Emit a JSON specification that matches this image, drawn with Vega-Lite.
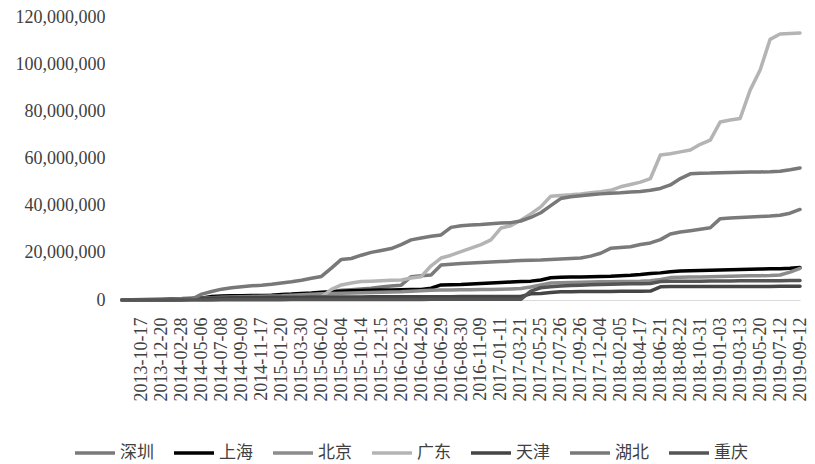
{
  "$schema": "https://vega.github.io/schema/vega-lite/v6.json",
  "width": 678,
  "height": 283,
  "autosize": {"type": "none"},
  "padding": {"left": 122, "top": 17, "right": 15, "bottom": 164},
  "background": "white",
  "config": {"view": {"stroke": null}, "font": "Liberation Serif"},
  "data": {"values": [
    {"date": "2013-08-14", "深圳": 0, "上海": 0, "北京": 0, "广东": 0, "天津": 0, "湖北": 0, "重庆": 0},
    {"date": "2013-09-16", "深圳": 100000, "上海": 0, "北京": 0, "广东": 0, "天津": 0, "湖北": 0, "重庆": 0},
    {"date": "2013-10-17", "深圳": 200000, "上海": 0, "北京": 0, "广东": 0, "天津": 0, "湖北": 0, "重庆": 0},
    {"date": "2013-11-18", "深圳": 300000, "上海": 0, "北京": 50000, "广东": 0, "天津": 0, "湖北": 0, "重庆": 0},
    {"date": "2013-12-20", "深圳": 400000, "上海": 100000, "北京": 100000, "广东": 100000, "天津": 50000, "湖北": 0, "重庆": 0},
    {"date": "2014-01-23", "深圳": 500000, "上海": 200000, "北京": 200000, "广东": 100000, "天津": 100000, "湖北": 0, "重庆": 0},
    {"date": "2014-02-28", "深圳": 600000, "上海": 300000, "北京": 300000, "广东": 200000, "天津": 200000, "湖北": 0, "重庆": 0},
    {"date": "2014-04-02", "深圳": 800000, "上海": 500000, "北京": 500000, "广东": 300000, "天津": 400000, "湖北": 300000, "重庆": 0},
    {"date": "2014-05-06", "深圳": 1000000, "上海": 800000, "北京": 700000, "广东": 400000, "天津": 600000, "湖北": 2500000, "重庆": 0},
    {"date": "2014-06-06", "深圳": 1200000, "上海": 1500000, "北京": 1000000, "广东": 500000, "天津": 800000, "湖北": 3600000, "重庆": 50000},
    {"date": "2014-07-08", "深圳": 1400000, "上海": 1700000, "北京": 1200000, "广东": 600000, "天津": 900000, "湖北": 4600000, "重庆": 100000},
    {"date": "2014-08-08", "深圳": 1500000, "上海": 1800000, "北京": 1300000, "广东": 700000, "天津": 1000000, "湖北": 5200000, "重庆": 100000},
    {"date": "2014-09-09", "深圳": 1600000, "上海": 1800000, "北京": 1400000, "广东": 800000, "天津": 1050000, "湖北": 5600000, "重庆": 100000},
    {"date": "2014-10-15", "深圳": 1700000, "上海": 1900000, "北京": 1500000, "广东": 900000, "天津": 1100000, "湖北": 6000000, "重庆": 100000},
    {"date": "2014-11-17", "深圳": 1800000, "上海": 1900000, "北京": 1600000, "广东": 1000000, "天津": 1100000, "湖北": 6300000, "重庆": 150000},
    {"date": "2014-12-18", "深圳": 1900000, "上海": 2000000, "北京": 1700000, "广东": 1000000, "天津": 1150000, "湖北": 6700000, "重庆": 150000},
    {"date": "2015-01-20", "深圳": 2000000, "上海": 2300000, "北京": 1800000, "广东": 1100000, "天津": 1200000, "湖北": 7200000, "重庆": 150000},
    {"date": "2015-02-27", "深圳": 2200000, "上海": 2500000, "北京": 2000000, "广东": 1100000, "天津": 1200000, "湖北": 7700000, "重庆": 200000},
    {"date": "2015-03-30", "深圳": 2400000, "上海": 2800000, "北京": 2200000, "广东": 1200000, "天津": 1200000, "湖北": 8400000, "重庆": 200000},
    {"date": "2015-04-30", "深圳": 2600000, "上海": 3000000, "北京": 2400000, "广东": 1200000, "天津": 1250000, "湖北": 9200000, "重庆": 200000},
    {"date": "2015-06-02", "深圳": 3000000, "上海": 3300000, "北京": 2600000, "广东": 1300000, "天津": 1250000, "湖北": 10000000, "重庆": 200000},
    {"date": "2015-07-03", "深圳": 3500000, "上海": 3500000, "北京": 2800000, "广东": 4500000, "天津": 1300000, "湖北": 13500000, "重庆": 200000},
    {"date": "2015-08-04", "深圳": 4100000, "上海": 3700000, "北京": 2900000, "广东": 6400000, "天津": 1300000, "湖北": 17200000, "重庆": 200000},
    {"date": "2015-09-08", "深圳": 4400000, "上海": 3900000, "北京": 3000000, "广东": 7200000, "天津": 1300000, "湖北": 17600000, "重庆": 200000},
    {"date": "2015-10-14", "深圳": 4700000, "上海": 4000000, "北京": 3100000, "广东": 7800000, "天津": 1300000, "湖北": 19000000, "重庆": 200000},
    {"date": "2015-11-13", "深圳": 5000000, "上海": 4100000, "北京": 3200000, "广东": 8000000, "天津": 1350000, "湖北": 20200000, "重庆": 250000},
    {"date": "2015-12-15", "深圳": 5500000, "上海": 4200000, "北京": 3300000, "广东": 8200000, "天津": 1350000, "湖北": 21000000, "重庆": 250000},
    {"date": "2016-01-15", "深圳": 5900000, "上海": 4200000, "北京": 3400000, "广东": 8400000, "天津": 1350000, "湖北": 21800000, "重庆": 250000},
    {"date": "2016-02-23", "深圳": 6300000, "上海": 4300000, "北京": 3500000, "广东": 8500000, "天津": 1350000, "湖北": 23500000, "重庆": 250000},
    {"date": "2016-03-25", "深圳": 9900000, "上海": 4400000, "北京": 3700000, "广东": 9300000, "天津": 1400000, "湖北": 25500000, "重庆": 250000},
    {"date": "2016-04-26", "深圳": 10300000, "上海": 4500000, "北京": 3900000, "广东": 9900000, "天津": 1400000, "湖北": 26300000, "重庆": 250000},
    {"date": "2016-05-30", "深圳": 10600000, "上海": 5000000, "北京": 4100000, "广东": 14500000, "天津": 1400000, "湖北": 27000000, "重庆": 300000},
    {"date": "2016-06-29", "深圳": 14800000, "上海": 6400000, "北京": 4200000, "广东": 17800000, "天津": 1400000, "湖北": 27600000, "重庆": 300000},
    {"date": "2016-07-29", "深圳": 15200000, "上海": 6500000, "北京": 4250000, "广东": 19000000, "天津": 1400000, "湖北": 30800000, "重庆": 300000},
    {"date": "2016-08-30", "深圳": 15500000, "上海": 6600000, "北京": 4300000, "广东": 20500000, "天津": 1450000, "湖北": 31500000, "重庆": 300000},
    {"date": "2016-10-10", "深圳": 15700000, "上海": 6800000, "北京": 4350000, "广东": 22000000, "天津": 1450000, "湖北": 31800000, "重庆": 300000},
    {"date": "2016-11-09", "深圳": 15900000, "上海": 7000000, "北京": 4400000, "广东": 23500000, "天津": 1450000, "湖北": 32000000, "重庆": 300000},
    {"date": "2016-12-09", "深圳": 16100000, "上海": 7200000, "北京": 4500000, "广东": 25500000, "天津": 1500000, "湖北": 32300000, "重庆": 300000},
    {"date": "2017-01-11", "深圳": 16300000, "上海": 7400000, "北京": 4600000, "广东": 30500000, "天津": 1500000, "湖北": 32600000, "重庆": 300000},
    {"date": "2017-02-20", "深圳": 16500000, "上海": 7600000, "北京": 4700000, "广东": 31500000, "天津": 1500000, "湖北": 32800000, "重庆": 300000},
    {"date": "2017-03-21", "深圳": 16700000, "上海": 7800000, "北京": 4900000, "广东": 33800000, "天津": 1500000, "湖北": 33500000, "重庆": 300000},
    {"date": "2017-04-24", "深圳": 16900000, "上海": 8000000, "北京": 5500000, "广东": 36500000, "天津": 2600000, "湖北": 35000000, "重庆": 3800000},
    {"date": "2017-05-25", "深圳": 17000000, "上海": 8500000, "北京": 6400000, "广东": 39500000, "天津": 2800000, "湖北": 37000000, "重庆": 5200000},
    {"date": "2017-06-26", "深圳": 17200000, "上海": 9400000, "北京": 7200000, "广东": 44000000, "天津": 3200000, "湖北": 40000000, "重庆": 5600000},
    {"date": "2017-07-26", "深圳": 17400000, "上海": 9600000, "北京": 7300000, "广东": 44300000, "天津": 3500000, "湖北": 43000000, "重庆": 5900000},
    {"date": "2017-08-25", "深圳": 17600000, "上海": 9700000, "北京": 7400000, "广东": 44600000, "天津": 3550000, "湖北": 43800000, "重庆": 6100000},
    {"date": "2017-09-26", "深圳": 17800000, "上海": 9800000, "北京": 7500000, "广东": 45000000, "天津": 3600000, "湖北": 44200000, "重庆": 6300000},
    {"date": "2017-11-03", "深圳": 18600000, "上海": 9900000, "北京": 7600000, "广东": 45500000, "天津": 3600000, "湖北": 44600000, "重庆": 6500000},
    {"date": "2017-12-04", "深圳": 19800000, "上海": 10000000, "北京": 7700000, "广东": 45900000, "天津": 3650000, "湖北": 45000000, "重庆": 6600000},
    {"date": "2018-01-04", "深圳": 21900000, "上海": 10100000, "北京": 7700000, "广东": 46500000, "天津": 3650000, "湖北": 45300000, "重庆": 6700000},
    {"date": "2018-02-05", "深圳": 22300000, "上海": 10300000, "北京": 7800000, "广东": 48000000, "天津": 3700000, "湖北": 45500000, "重庆": 6800000},
    {"date": "2018-03-14", "深圳": 22600000, "上海": 10500000, "北京": 7800000, "广东": 49000000, "天津": 3700000, "湖北": 45800000, "重庆": 6900000},
    {"date": "2018-04-17", "深圳": 23500000, "上海": 10800000, "北京": 7900000, "广东": 50000000, "天津": 3750000, "湖北": 46000000, "重庆": 6900000},
    {"date": "2018-05-18", "深圳": 24200000, "上海": 11200000, "北京": 8200000, "广东": 51500000, "天津": 3800000, "湖北": 46500000, "重庆": 7000000},
    {"date": "2018-06-21", "深圳": 25600000, "上海": 11500000, "北京": 8700000, "广东": 61500000, "天津": 5600000, "湖北": 47300000, "重庆": 7800000},
    {"date": "2018-07-23", "深圳": 28000000, "上海": 12000000, "北京": 9500000, "广东": 62000000, "天津": 5700000, "湖北": 48800000, "重庆": 7900000},
    {"date": "2018-08-22", "深圳": 28800000, "上海": 12300000, "北京": 9600000, "广东": 62800000, "天津": 5700000, "湖北": 51500000, "重庆": 7950000},
    {"date": "2018-09-26", "深圳": 29400000, "上海": 12400000, "北京": 9700000, "广东": 63600000, "天津": 5700000, "湖北": 53500000, "重庆": 8000000},
    {"date": "2018-10-31", "深圳": 30000000, "上海": 12500000, "北京": 9800000, "广东": 66000000, "天津": 5700000, "湖北": 53700000, "重庆": 8000000},
    {"date": "2018-12-03", "深圳": 30600000, "上海": 12600000, "北京": 9900000, "广东": 67800000, "天津": 5700000, "湖北": 53800000, "重庆": 8050000},
    {"date": "2019-01-03", "深圳": 34500000, "上海": 12700000, "北京": 10000000, "广东": 75500000, "天津": 5700000, "湖北": 54000000, "重庆": 8100000},
    {"date": "2019-02-13", "深圳": 34800000, "上海": 12800000, "北京": 10100000, "广东": 76300000, "天津": 5700000, "湖北": 54100000, "重庆": 8100000},
    {"date": "2019-03-13", "深圳": 35000000, "上海": 12900000, "北京": 10200000, "广东": 77000000, "天津": 5750000, "湖北": 54200000, "重庆": 8150000},
    {"date": "2019-04-16", "深圳": 35200000, "上海": 13000000, "北京": 10300000, "广东": 89000000, "天津": 5750000, "湖北": 54300000, "重庆": 8150000},
    {"date": "2019-05-20", "深圳": 35400000, "上海": 13100000, "北京": 10300000, "广东": 97500000, "天津": 5750000, "湖北": 54300000, "重庆": 8200000},
    {"date": "2019-06-17", "深圳": 35600000, "上海": 13200000, "北京": 10400000, "广东": 110500000, "天津": 5750000, "湖北": 54400000, "重庆": 8200000},
    {"date": "2019-07-12", "深圳": 35900000, "上海": 13300000, "北京": 10600000, "广东": 112800000, "天津": 5800000, "湖北": 54600000, "重庆": 8200000},
    {"date": "2019-08-12", "深圳": 36800000, "上海": 13500000, "北京": 11800000, "广东": 113000000, "天津": 5800000, "湖北": 55200000, "重庆": 8250000},
    {"date": "2019-09-12", "深圳": 38400000, "上海": 13800000, "北京": 13400000, "广东": 113200000, "天津": 5800000, "湖北": 56000000, "重庆": 8300000}
  ]},
  "transform": [{"fold": ["深圳", "上海", "北京", "广东", "天津", "湖北", "重庆"], "as": ["城市", "成交量"]}],
  "mark": {"type": "line", "strokeWidth": 3.5, "strokeJoin": "round", "strokeCap": "round"},
  "encoding": {
    "x": {
      "field": "date", "type": "ordinal", "sort": "ascending",
      "scale": {"type": "point", "padding": 0},
      "axis": {
        "title": null,
        "values": ["2013-10-17","2013-12-20","2014-02-28","2014-05-06","2014-07-08","2014-09-09","2014-11-17","2015-01-20","2015-03-30","2015-06-02","2015-08-04","2015-10-14","2015-12-15","2016-02-23","2016-04-26","2016-06-29","2016-08-30","2016-11-09","2017-01-11","2017-03-21","2017-05-25","2017-07-26","2017-09-26","2017-12-04","2018-02-05","2018-04-17","2018-06-21","2018-08-22","2018-10-31","2019-01-03","2019-03-13","2019-05-20","2019-07-12","2019-09-12"],
        "labelAngle": -90,
        "labelFont": "Liberation Serif",
        "labelFontSize": 18,
        "labelColor": "#404040",
        "ticks": false,
        "labelPadding": 17,
        "domainColor": "#d9d9d9",
        "domainWidth": 1,
        "grid": false,
        "labelOverlap": false
      }
    },
    "y": {
      "field": "成交量", "type": "quantitative",
      "scale": {"domain": [0, 120000000], "nice": false},
      "axis": {
        "title": null,
        "values": [0, 20000000, 40000000, 60000000, 80000000, 100000000, 120000000],
        "format": ",d",
        "domain": false,
        "ticks": false,
        "grid": false,
        "labelFont": "Liberation Serif",
        "labelFontSize": 18,
        "labelColor": "#404040",
        "labelPadding": 17
      }
    },
    "color": {
      "field": "城市", "type": "nominal",
      "scale": {
        "domain": ["深圳", "上海", "北京", "广东", "天津", "湖北", "重庆"],
        "range": ["#7a7a7a", "#000000", "#8c8c8c", "#b4b4b4", "#454545", "#787878", "#555555"]
      },
      "legend": {
        "orient": "none",
        "direction": "horizontal",
        "legendX": -49,
        "legendY": 414,
        "title": null,
        "symbolType": "stroke",
        "symbolSize": 1600,
        "symbolStrokeWidth": 3.5,
        "labelFont": "Noto Sans CJK SC",
        "labelFontSize": 17,
        "labelColor": "#404040",
        "columnPadding": 13,
        "labelOffset": 3
      }
    }
  }
}
